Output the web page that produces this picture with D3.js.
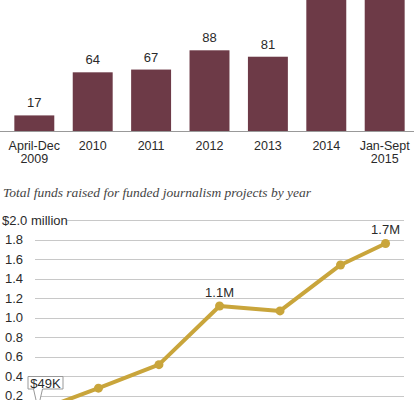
<!DOCTYPE html>
<html><head><meta charset="utf-8">
<script src="https://cdn.jsdelivr.net/npm/d3@7"></script>
<style>body{margin:0;background:#fff;}svg{display:block;}</style>
</head><body>
<script>
const barCategories = [["April-Dec","2009"],["2010"],["2011"],["2012"],["2013"],["2014"],["Jan-Sept","2015"]];
const barValues = [17, 64, 67, 88, 81, 173, 168];
const periodEnds = ["2010-01-01","2011-01-01","2012-01-01","2013-01-01","2014-01-01","2015-01-01","2015-09-30"];
const fundsMillions = [0.049, 0.28, 0.52, 1.12, 1.07, 1.54, 1.76];
const pointLabels = ["$49K", null, null, "1.1M", null, null, "1.7M"];
const yTicks = [0.2, 0.4, 0.6, 0.8, 1.0, 1.2, 1.4, 1.6, 1.8, 2.0];
const title = "Total funds raised for funded journalism projects by year";

const W = 420, H = 400;
const svg = d3.select("body").append("svg").attr("width", W).attr("height", H);
const sans = "'Liberation Sans', Arial, sans-serif";
const txt = "#2a2a2a";

// Bar chart
const xb = d3.scaleBand().domain(barCategories.map((d,i)=>i)).range([5, 414]).paddingInner(0.316).paddingOuter(0.16);
const yb = d3.scaleLinear().domain([0, 100]).range([131, 39.3]);
svg.append("g").selectAll("rect").data(barValues).join("rect")
  .attr("x", (d,i)=>xb(i)).attr("width", xb.bandwidth())
  .attr("y", d=>yb(d)).attr("height", d=>yb(0)-yb(d))
  .attr("fill", "#6d3a47");
svg.append("g").selectAll("text").data(barValues).join("text")
  .attr("x", (d,i)=>xb(i)+xb.bandwidth()/2).attr("y", d=>yb(d)-8)
  .attr("text-anchor","middle").attr("font-family",sans).attr("font-size",13).attr("fill",txt)
  .text(d=>d);
svg.append("line").attr("x1",0).attr("x2",414).attr("y1",yb(0)+0.5).attr("y2",yb(0)+0.5)
  .attr("stroke","#999").attr("stroke-width",1);
const cat = svg.append("g").selectAll("text").data(barCategories).join("text")
  .attr("text-anchor","middle").attr("font-family",sans).attr("font-size",12.5).attr("fill",txt)
  .attr("transform",(d,i)=>`translate(${xb(i)+xb.bandwidth()/2},150)`);
cat.selectAll("tspan").data(d=>d).join("tspan").attr("x",0).attr("dy",(d,j)=>j===0?0:12.5).text(d=>d);

// Title
svg.append("text").attr("x",3).attr("y",197).attr("font-family","'Liberation Serif', Georgia, serif")
  .attr("font-style","italic").attr("font-size",13.5).attr("fill","#444").text(title);

// Line chart
const parse = d3.timeParse("%Y-%m-%d");
const dates = periodEnds.map(parse);
const xl = d3.scaleTime().domain([parse("2010-01-01"), parse("2015-01-01")]).range([38, 340.5]);
const yl = d3.scaleLinear().domain([0, 2]).range([415.5, 220]);

const grid = svg.append("g");
grid.selectAll("line").data(yTicks).join("line")
  .attr("x1", d=>d===2.0?67:35).attr("x2",404)
  .attr("y1", d=>Math.round(yl(d))+0.5).attr("y2", d=>Math.round(yl(d))+0.5)
  .attr("stroke","#c8c8c8").attr("stroke-width",1);
grid.selectAll("text").data(yTicks).join("text")
  .attr("x", d=>d===2.0?2:23).attr("y", d=>yl(d)+4.5)
  .attr("text-anchor", d=>d===2.0?"start":"end")
  .attr("font-family",sans).attr("font-size",13).attr("fill",txt)
  .text(d=>d===2.0?"$2.0 million":d3.format(".1f")(d));

const pts = fundsMillions.map((v,i)=>({x:xl(dates[i]), y:yl(v), label:pointLabels[i]}));
const gold = "#c9a53b";
svg.append("path").datum(pts)
  .attr("d", d3.line().x(d=>d.x).y(d=>d.y))
  .attr("fill","none").attr("stroke",gold).attr("stroke-width",4).attr("stroke-linejoin","round");
svg.append("g").selectAll("circle").data(pts.slice(1)).join("circle")
  .attr("cx",d=>d.x).attr("cy",d=>d.y).attr("r",4.5).attr("fill",gold);

svg.append("g").selectAll("text").data(pts.filter((d,i)=>i>0 && d.label)).join("text")
  .attr("x",d=>d.x).attr("y",d=>d.y-9)
  .attr("text-anchor","middle").attr("font-family",sans).attr("font-size",13).attr("fill",txt)
  .text(d=>d.label);

// Callout for first point
const p0 = pts[0];
const co = svg.append("g");
const bx = p0.x - 10, by = 376.5, bw = 35, bh = 12.5;
co.append("path")
  .attr("d", `M${bx},${by} H${bx+bw} V${by+bh} H${p0.x+4.5} L${p0.x},${p0.y-2} L${p0.x-4.5},${by+bh} H${bx} Z`)
  .attr("fill","#fff").attr("stroke","#999").attr("stroke-width",1);
co.append("text").attr("x",bx+bw/2).attr("y",by+bh-1.5).attr("text-anchor","middle")
  .attr("font-family",sans).attr("font-size",13).attr("fill",txt).text(p0.label);
</script>
</body></html>
